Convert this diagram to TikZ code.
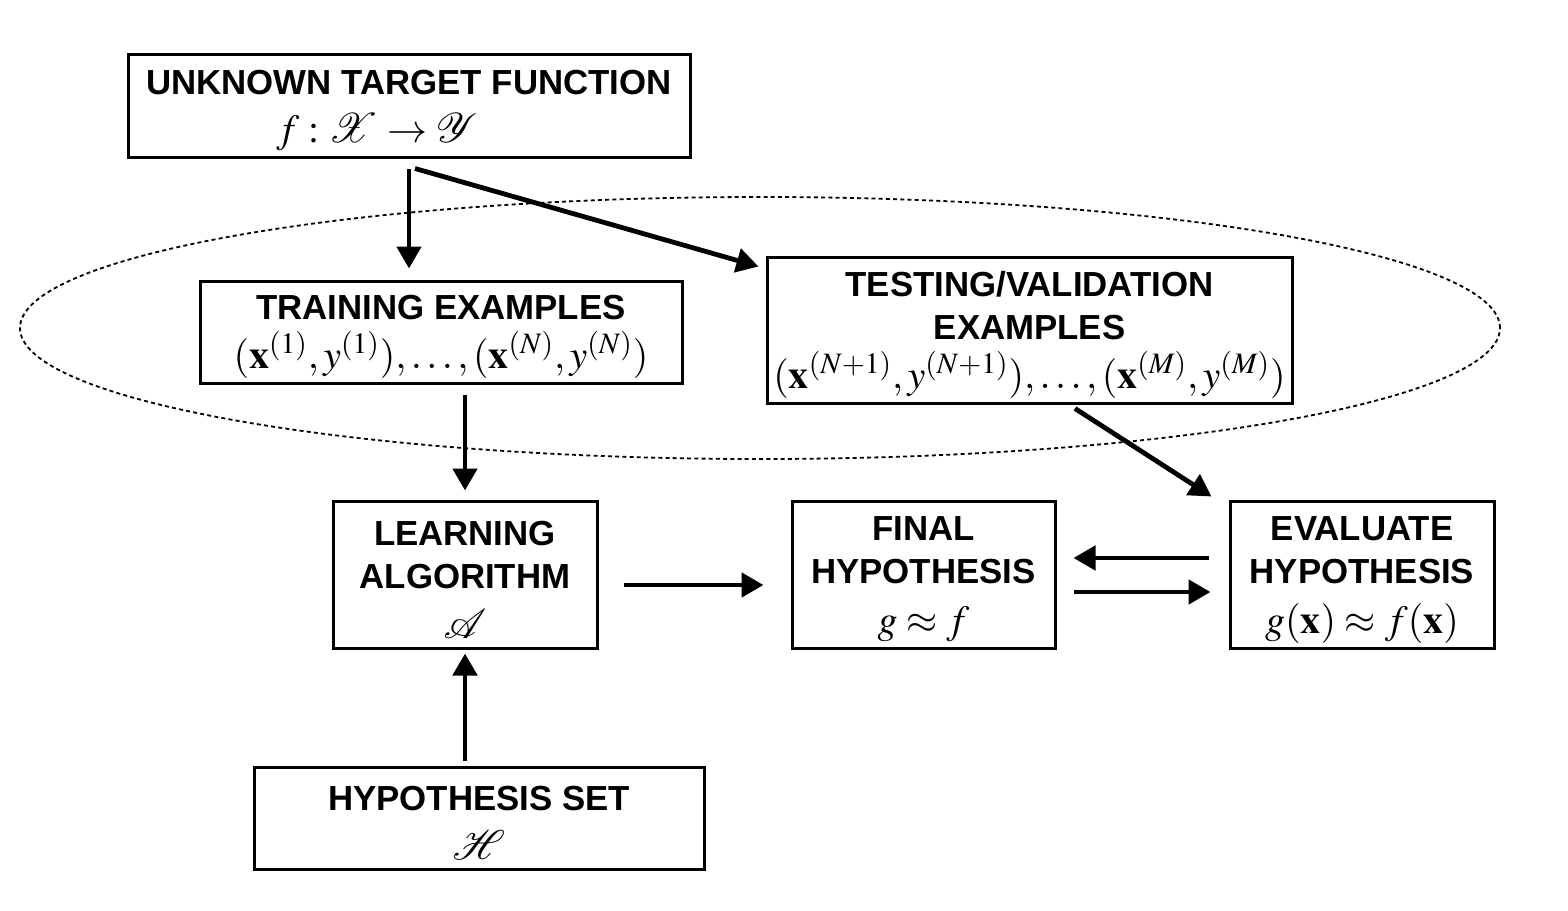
\documentclass[tikz,border=0pt]{standalone}
\usepackage{amsmath}
\usepackage{mathptmx}
\usepackage{mathrsfs}
\usepackage{fontspec}
\setmainfont{Liberation Serif}
\setsansfont{Liberation Sans}
\usetikzlibrary{shapes.geometric, arrows.meta, calc}
\newcommand{\mth}[1]{{\fontsize{20}{24}\selectfont$#1$}}
\newcommand{\topstrut}{\rule{0pt}{17pt}}

\begin{document}
\begin{tikzpicture}[
  x=0.5pt, y=-0.5pt,
  font=\sffamily\bfseries\fontsize{17.4}{21.5}\selectfont,
  blk/.style={draw, line width=1.5pt, fill=white, inner sep=0pt, align=center},
  arr/.style={-{Triangle[length=11pt,width=12pt]}, line width=2.4pt},
  dots/.style={draw, densely dashed, dash pattern=on 2pt off 1.6pt, line width=0.9pt},
]
\useasboundingbox (0,0) rectangle (1568,910);

\node[ellipse, dots, minimum width=740pt, minimum height=131pt] (sample) at (760,328) {};

\node[blk, minimum width=281pt, minimum height=51.5pt] (target) at (409,105.5)
  {\topstrut UNKNOWN TARGET FUNCTION\\[2.5pt]\mth{f:\mathscr{X}\rightarrow\mathscr{Y}}\hspace*{32pt}};
\node[blk, minimum width=241pt, minimum height=51pt] (train) at (441,332)
  {\topstrut TRAINING EXAMPLES\\[3pt]\mth{(\mathbf{x}^{(1)},y^{(1)}),\ldots,(\mathbf{x}^{(N)},y^{(N)})}};
\node[blk, minimum width=262.5pt, minimum height=73pt] (test) at (1029.5,330)
  {\topstrut TESTING/VALIDATION\\EXAMPLES\\[3pt]\mth{(\mathbf{x}^{(N+1)},y^{(N+1)}),\ldots,(\mathbf{x}^{(M)},y^{(M)})}};
\node[blk, minimum width=132pt, minimum height=73.5pt] (learn) at (465,574.5)
  {\topstrut LEARNING\\ALGORITHM\\[3.5pt]\mth{\mathscr{A}}};
\node[blk, minimum width=131.5pt, minimum height=73.5pt] (final) at (923.5,574.5)
  {\topstrut FINAL\\HYPOTHESIS\\[3.5pt]\mth{g\approx f}};
\node[blk, minimum width=132pt, minimum height=73.5pt] (eval) at (1362,574.5)
  {\topstrut EVALUATE\\HYPOTHESIS\\[3.5pt]\mth{g(\mathbf{x})\approx f(\mathbf{x})}};
\node[blk, minimum width=225pt, minimum height=51pt] (hset) at (479,818)
  {\topstrut HYPOTHESIS SET\\[3pt]\mth{\mathscr{H}}};

\draw[arr] ([yshift=-5pt]target.south) -- ([yshift=5.5pt]target.south |- train.north);
\draw[arr] ([xshift=3pt,yshift=-5pt]target.south) -- ([xshift=-3.5pt,yshift=-5.5pt]test.north west);
\draw[arr] ([yshift=-5pt]learn.north |- train.south) -- ([yshift=4.5pt]learn.north);
\draw[arr] ([xshift=22.75pt,yshift=-2pt]test.south) -- ([xshift=-8.5pt,yshift=1.5pt]eval.north west);
\draw[arr] ([xshift=12.5pt,yshift=-5.25pt]learn.east) -- ([xshift=-13.5pt,yshift=-5.25pt]final.west);
\draw[arr] ([xshift=-10pt,yshift=8.25pt]eval.west) -- ([xshift=8.5pt,yshift=8.25pt]final.east);
\draw[arr] ([xshift=8.5pt,yshift=-8.75pt]final.east) -- ([xshift=-9pt,yshift=-8.75pt]eval.west);
\draw[arr] ([yshift=2.5pt]learn.south |- hset.north) -- ([yshift=-2pt]learn.south);
\end{tikzpicture}
\end{document}
